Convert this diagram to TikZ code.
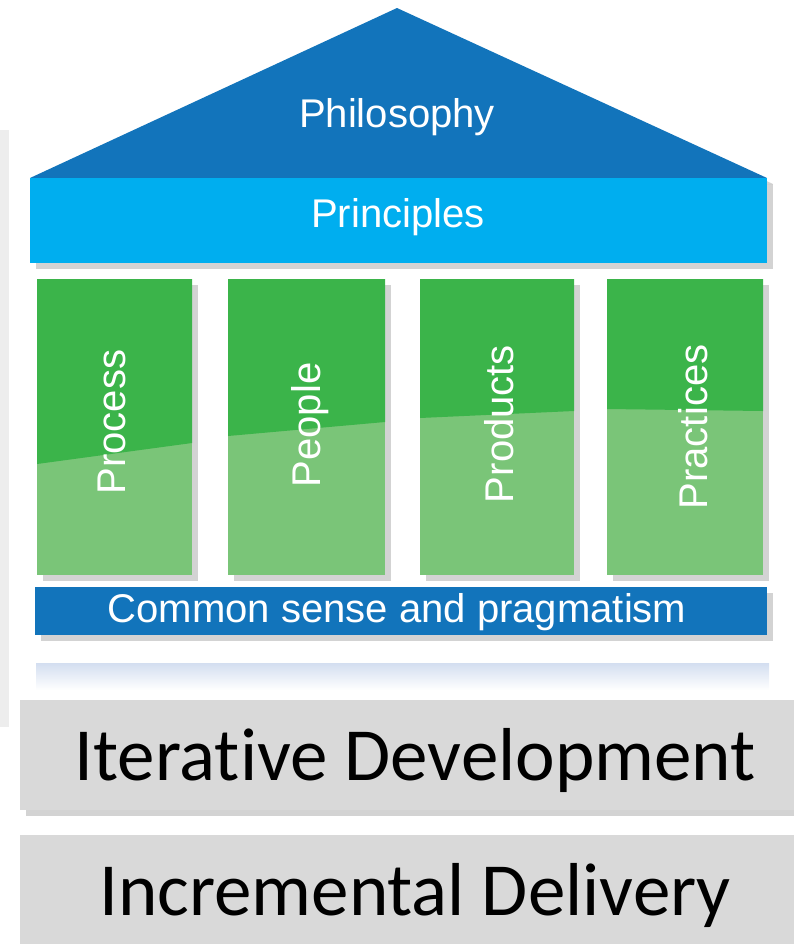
\documentclass[tikz,border=0pt]{standalone}
\usepackage{fontspec}
\setmainfont{Carlito}[Ligatures=NoCommon]
\newfontfamily\housefont{Liberation Sans}
\usetikzlibrary{shadows}
\definecolor{roofblue}{HTML}{1274BB}
\definecolor{beamblue}{HTML}{00AEEF}
\definecolor{topgreen}{HTML}{3BB44A}
\definecolor{lowgreen}{HTML}{7AC578}
\definecolor{basegray}{HTML}{D9D9D9}
\definecolor{mistblue}{HTML}{D3DEF0}
\begin{document}
\begin{tikzpicture}[x=0.02cm,y=-0.02cm,
    housetext/.style={text=white,inner sep=0pt,font=\housefont\fontsize{22.8}{24}\selectfont},
    bigtext/.style={text=black,inner sep=0pt,font=\fontsize{42.7}{46}\selectfont},
    softshadow/.style={drop shadow={shadow xshift=1.2mm,shadow yshift=-1.2mm,opacity=.35}}]
  \useasboundingbox (0,0) rectangle (794,944);
  \fill[black!7] (0,130) rectangle (9,727);
  % roof and beam
  \fill[roofblue,softshadow] (30,178) -- (397,8) -- (767,178) -- cycle;
  \node[housetext,anchor=base] (philosophy) at (397,127) {Philosophy};
  % pillars
  \foreach \l/\r/\yl/\yr/\bx/\by/\txt/\nm in
      {37/192/464/443/125/422/Process/process,
       228/385/436/422/320/425/People/people,
       420/574/418/411/513/424/Products/products,
       607/763/409/411/707/427/Practices/practices} {
    \fill[lowgreen,softshadow] (\l,279) rectangle (\r,575);
    \fill[topgreen] (\l,279) -- (\r,279) -- (\r,\yr) -- (\l,\yl) -- cycle;
    \node[housetext,rotate=90,anchor=base] (\nm) at (\bx,\by) {\txt};
  }
  \fill[beamblue,softshadow] (30,178) rectangle (767,263);
  \node[housetext,anchor=base] (principles) at (398,227) {Principles};
  % foundation
  \fill[roofblue,softshadow] (35,587) rectangle (767,635);
  \node[housetext,anchor=base] (pragmatism) at (397,622) {Common sense and pragmatism};
  \shade[top color=mistblue,bottom color=white] (36,663) rectangle (769,690);
  % delivery layers
  \fill[basegray,softshadow] (20,700) rectangle (800,810);
  \node[bigtext,anchor=base] (iterative) at (415,780) {Iterative Development};
  \fill[basegray] (20,835) rectangle (800,950);
  \node[bigtext,anchor=base] (incremental) at (415,915) {Incremental Delivery};
\end{tikzpicture}
\end{document}
